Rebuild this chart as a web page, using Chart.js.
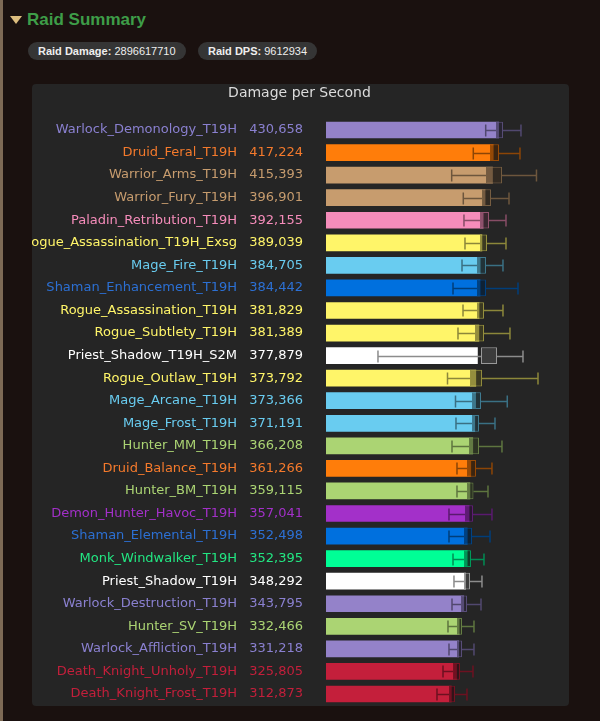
<!DOCTYPE html>
<html>
<head>
<meta charset="utf-8">
<script src="https://cdn.jsdelivr.net/npm/chart.js@4.4.1/dist/chart.umd.min.js"></script>
<style>
  html, body { margin: 0; padding: 0; background: #1a110f; }
  body { width: 600px; height: 721px; position: relative; overflow: hidden; font-family: "Liberation Sans", Arial, sans-serif; }
  .edge { position: absolute; left: 0; top: 0; width: 3px; height: 721px; background: #7d6a55; }
  .tri { position: absolute; left: 10px; top: 16px; width: 0; height: 0;
         border-left: 6px solid transparent; border-right: 6px solid transparent; border-top: 8px solid #dcbd7e; }
  h2 { position: absolute; left: 27px; top: 10px; margin: 0; font-size: 17px; line-height: 20px; color: #3e9d48; font-weight: bold; }
  .pill { position: absolute; top: 42px; height: 18px; line-height: 18px; border-radius: 9px; background: #353535;
          color: #eee; font-size: 11px; padding: 0 10px; white-space: nowrap; }
  .pill b { font-weight: bold; }
  .panel { position: absolute; left: 32px; top: 84px; width: 537px; height: 622px; background: #252525; border-radius: 4px; overflow: hidden; }
</style>
</head>
<body>
<div class="edge"></div>
<div class="tri"></div>
<h2>Raid Summary</h2>
<div class="pill" style="left:28px"><b>Raid Damage:</b> 2896617710</div>
<div class="pill" style="left:198px"><b>Raid DPS:</b> 9612934</div>
<div class="panel"><canvas id="dps" width="537" height="622"></canvas></div>

<script>
// ── Data ──────────────────────────────────────────────────────────────────────
const specs = [
  "Warlock_Demonology_T19H", "Druid_Feral_T19H", "Warrior_Arms_T19H", "Warrior_Fury_T19H",
  "Paladin_Retribution_T19H", "Rogue_Assassination_T19H_Exsg", "Mage_Fire_T19H", "Shaman_Enhancement_T19H",
  "Rogue_Assassination_T19H", "Rogue_Subtlety_T19H", "Priest_Shadow_T19H_S2M", "Rogue_Outlaw_T19H",
  "Mage_Arcane_T19H", "Mage_Frost_T19H", "Hunter_MM_T19H", "Druid_Balance_T19H",
  "Hunter_BM_T19H", "Demon_Hunter_Havoc_T19H", "Shaman_Elemental_T19H", "Monk_Windwalker_T19H",
  "Priest_Shadow_T19H", "Warlock_Destruction_T19H", "Hunter_SV_T19H", "Warlock_Affliction_T19H",
  "Death_Knight_Unholy_T19H", "Death_Knight_Frost_T19H"
];
const classes = [
  "warlock", "druid", "warrior", "warrior", "paladin", "rogue", "mage", "shaman",
  "rogue", "rogue", "priest", "rogue", "mage", "mage", "hunter", "druid",
  "hunter", "dh", "shaman", "monk", "priest", "warlock", "hunter", "warlock", "dk", "dk"
];
const dps = [
  430658, 417224, 415393, 396901, 392155, 389039, 384705, 384442, 381829, 381389, 377879, 373792, 373366,
  371191, 366208, 361266, 359115, 357041, 352498, 352395, 348292, 343795, 332466, 331218, 325805, 312873
];
// box (q1..q3) and whiskers (lo..hi)
const lo = [
  397600, 366700, 312900, 341800, 343500, 346000, 338600, 316200, 341100, 328600, 129400, 302500, 322400,
  323600, 313700, 326100, 326100, 306200, 306200, 316200, 318600, 313700, 303700, 306200, 291300, 276300
];
const q1 = [
  423200, 408300, 398300, 388300, 383400, 383400, 375900, 375900, 375900, 370900, 385900, 358500, 363500,
  363500, 356000, 351000, 351000, 346000, 343500, 343500, 343500, 336100, 326100, 326100, 316200, 306200
];
const q3 = [
  440600, 430700, 438100, 410800, 405800, 400800, 398300, 398300, 393300, 393300, 425700, 388300, 385900,
  380900, 380900, 373400, 367200, 365900, 363500, 361000, 358500, 351000, 338600, 338600, 333600, 321100
];
const hi = [
  485400, 482900, 524000, 455600, 448100, 448100, 440600, 478000, 440600, 458000, 490400, 527800, 451300,
  420700, 438100, 413200, 403300, 413200, 408300, 393300, 388300, 385900, 368400, 368400, 365900, 351000
];

const barColor = {
  warlock: "#9482c9", druid: "#ff7d0a", warrior: "#c79c6e", paladin: "#f58cba", rogue: "#fff569",
  mage: "#69ccf0", shaman: "#0070de", priest: "#ffffff", hunter: "#abd473", dh: "#a330c9",
  monk: "#00ff96", dk: "#c41f3b"
};
const textColor = {
  warlock: "#8a80d0", druid: "#f57a2c", warrior: "#c79c6e", paladin: "#f58cba", rogue: "#fff569",
  mage: "#69ccf0", shaman: "#2c70d4", priest: "#ffffff", hunter: "#abd473", dh: "#a330c9",
  monk: "#22e682", dk: "#c41f3b"
};

// ── Helpers ───────────────────────────────────────────────────────────────────
function shade(hex, f, a) {
  const n = parseInt(hex.slice(1), 16);
  const r = Math.round((n >> 16 & 255) * f), g = Math.round((n >> 8 & 255) * f), b = Math.round((n & 255) * f);
  return a === undefined ? `rgb(${r},${g},${b})` : `rgba(${r},${g},${b},${a})`;
}

// force axis width, and stop tick padding from eating vertical space
function fixWidth(w) {
  return s => { s.width = w; s.paddingTop = 0; s.paddingBottom = 0; };
}

const whiskers = {
  id: "whiskers",
  afterDatasetDraw(chart, args) {
    if (args.index !== 0) return;
    const { ctx, scales: { x, y } } = chart;
    ctx.save();
    ctx.lineWidth = 1.5;
    specs.forEach((s, i) => {
      const yc = Math.round(y.getPixelForValue(i)) + 0.5;
      const a = x.getPixelForValue(lo[i]), b = x.getPixelForValue(q1[i]);
      const c = x.getPixelForValue(q3[i]), d = x.getPixelForValue(hi[i]);
      ctx.strokeStyle = shade(barColor[classes[i]], 0.55);
      ctx.beginPath();
      ctx.moveTo(a, yc); ctx.lineTo(b, yc);
      ctx.moveTo(c, yc); ctx.lineTo(d, yc);
      ctx.moveTo(a, yc - 6); ctx.lineTo(a, yc + 6);
      ctx.moveTo(d, yc - 6); ctx.lineTo(d, yc + 6);
      ctx.stroke();
    });
    ctx.restore();
  }
};

const font = "'DejaVu Sans', Verdana, sans-serif";

new Chart(document.getElementById("dps"), {
  type: "bar",
  data: {
    labels: specs,
    datasets: [
      {
        data: dps,
        backgroundColor: classes.map(c => barColor[c]),
        barPercentage: 0.74, categoryPercentage: 1, grouped: false, order: 2
      },
      {
        data: q1.map((v, i) => [v, q3[i]]),
        backgroundColor: classes.map(c => shade(barColor[c], 0.3, 0.6)),
        borderColor: classes.map(c => shade(barColor[c], 0.6)),
        borderWidth: 1, borderSkipped: false,
        barPercentage: 0.74, categoryPercentage: 1, grouped: false, order: 1
      }
    ]
  },
  options: {
    indexAxis: "y",
    responsive: false,
    animation: false,
    layout: { padding: { left: 0, right: 2, top: 0, bottom: 0.7 } },
    plugins: {
      legend: { display: false },
      tooltip: { enabled: false },
      title: {
        display: true, text: "Damage per Second", color: "#dcdcdc",
        font: { family: font, size: 14, weight: "normal" },
        padding: { top: 1, bottom: 16.9 }
      }
    },
    scales: {
      x: { min: 0, max: 600000, display: false },
      y: {
        position: "left", weight: 1,
        grid: { display: false, drawTicks: false }, border: { display: false },
        ticks: { autoSkip: false, padding: 5, color: c => textColor[classes[c.index]], font: { family: font, size: 13 } },
        afterFit: fixWidth(210)
      },
      yv: {
        type: "category", axis: "y", position: "left", weight: 0,
        labels: dps.map(v => v.toLocaleString("en-US")),
        grid: { display: false, drawTicks: false }, border: { display: false },
        ticks: { autoSkip: false, padding: 23, color: c => textColor[classes[c.index]], font: { family: font, size: 13 } },
        afterFit: fixWidth(84)
      }
    }
  },
  plugins: [whiskers]
});
</script>
</body>
</html>
